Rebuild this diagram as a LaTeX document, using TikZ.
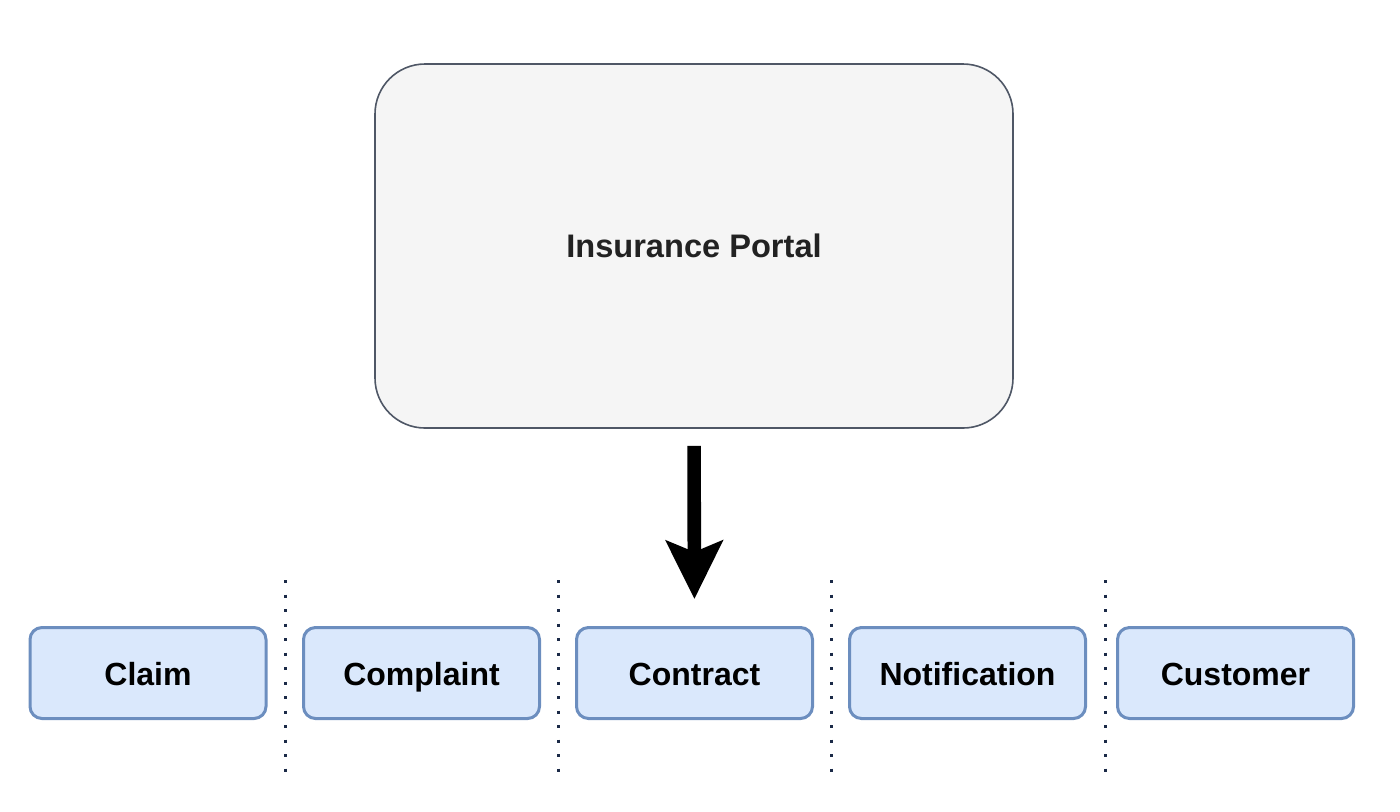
\documentclass[tikz,border=0pt]{standalone}
\usepackage{fontspec}
\setmainfont{Liberation Sans}
\usetikzlibrary{arrows.meta}
\definecolor{portalfill}{HTML}{F5F5F5}
\definecolor{portaldraw}{HTML}{4F5766}
\definecolor{boxfill}{HTML}{DAE8FC}
\definecolor{boxdraw}{HTML}{6C8EBF}
\definecolor{sepcol}{HTML}{1B2A47}
\definecolor{portaltext}{HTML}{222222}
\tikzset{
  portal/.style={draw=portaldraw, fill=portalfill, line width=0.8pt, rounded corners=25pt,
    minimum width=319pt, minimum height=182pt, inner sep=0pt,
    font=\fontsize{16.3}{19}\selectfont\bfseries, text=portaltext},
  entity/.style={draw=boxdraw, fill=boxfill, line width=1.5pt, rounded corners=6pt,
    minimum width=118pt, minimum height=45.5pt, inner sep=0pt,
    text height=13.6pt, text depth=1.4pt,
    font=\fontsize{16}{19}\selectfont\bfseries, text=black},
  sep/.style={draw=sepcol, line width=1.5pt, dash pattern=on 1.5pt off 5.75pt},
  bigarrow/.style={draw=black, line width=6.8pt, -{Stealth[width=28pt, length=29pt, inset=5.5pt]}}
}
\begin{document}
\begin{tikzpicture}[x=0.5pt, y=-0.5pt]
\useasboundingbox (0,0) rectangle (1400,811);
\node[portal] (portal) at (694,246) {Insurance Portal};
\node[entity] (claim) at (148,673) {Claim};
\node[entity] (complaint) at (421.5,673) {Complaint};
\node[entity] (contract) at (694.5,673) {Contract};
\node[entity] (notification) at (967.5,673) {Notification};
\node[entity] (customer) at (1235.5,673) {Customer};
\coordinate (s1t) at (285,580); \coordinate (s1b) at (285,774);
\coordinate (s2t) at (558,580); \coordinate (s2b) at (558,774);
\coordinate (s3t) at (831,580); \coordinate (s3b) at (831,774);
\coordinate (s4t) at (1105,580); \coordinate (s4b) at (1105,774);
\draw[sep] (s1t) -- (s1b);
\draw[sep] (s2t) -- (s2b);
\draw[sep] (s3t) -- (s3b);
\draw[sep] (s4t) -- (s4b);
\draw[bigarrow, shorten <=8.5pt, shorten >=13.5pt] (portal.south) -- (contract.north);
\end{tikzpicture}
\end{document}
